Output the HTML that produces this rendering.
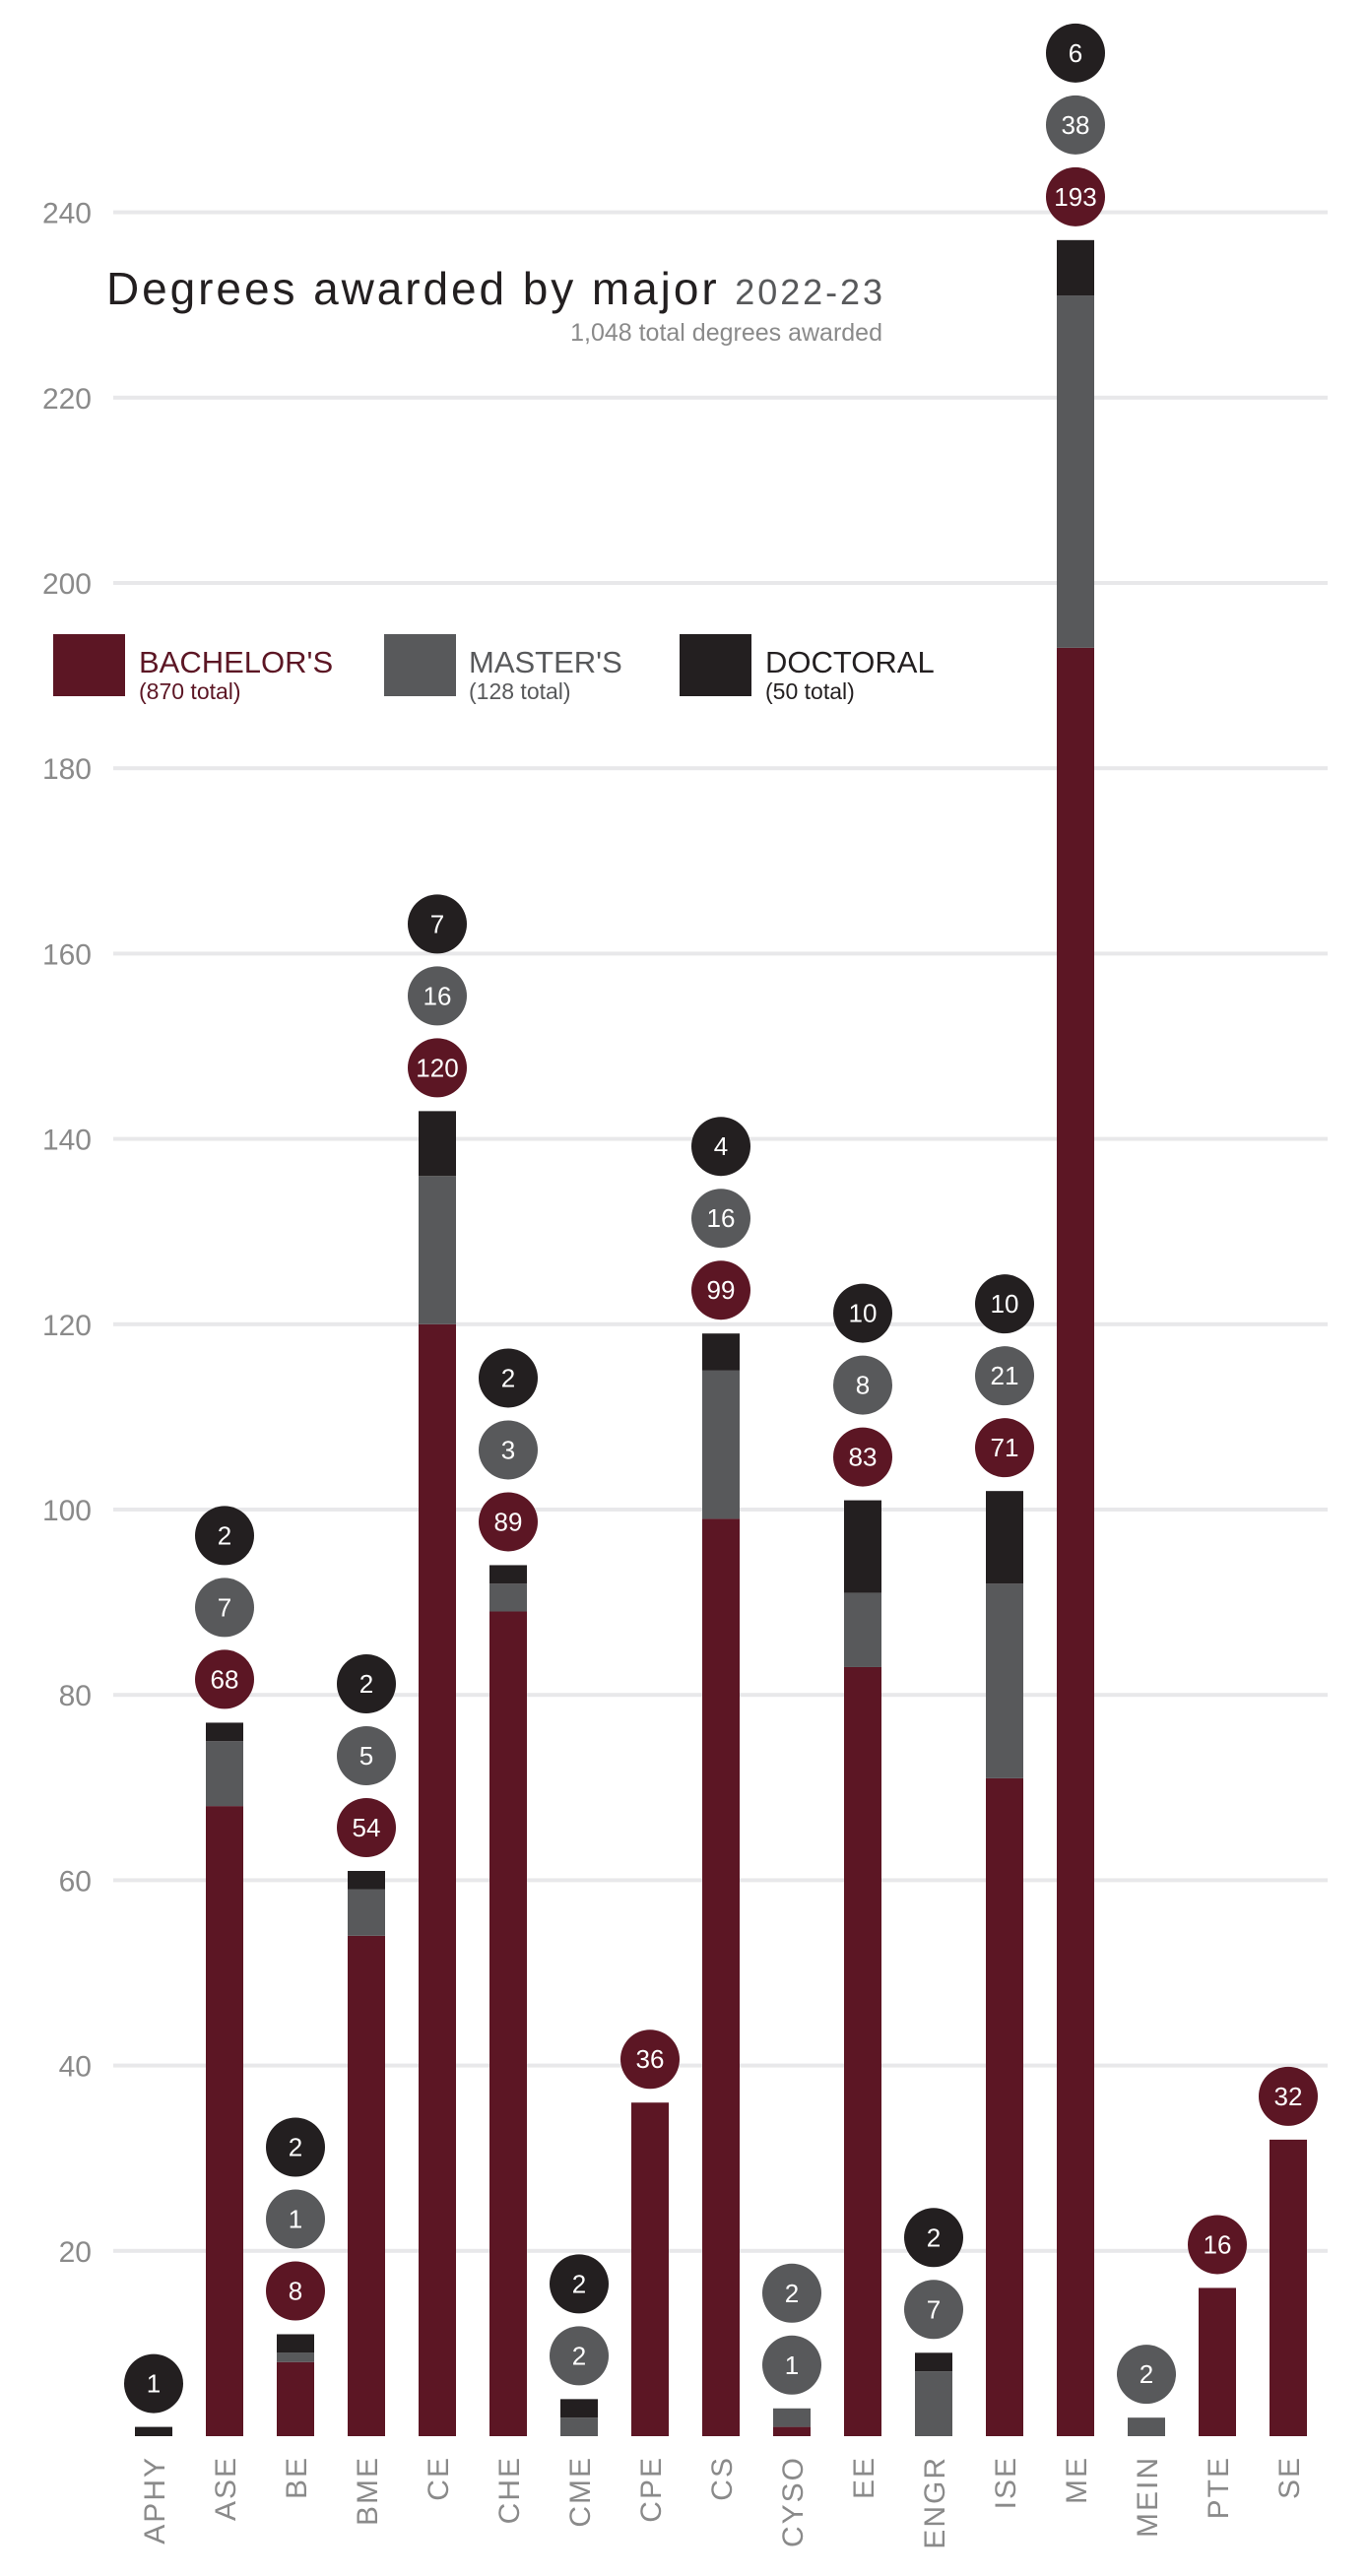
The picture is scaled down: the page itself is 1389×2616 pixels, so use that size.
<!DOCTYPE html>
<html><head><meta charset="utf-8"><style>
html,body{margin:0;padding:0;background:#fff}
svg{display:block}
text{font-family:"Liberation Sans",sans-serif}
</style></head><body>
<svg id="chart" width="1389" height="2616" viewBox="0 0 1389 2616" xmlns="http://www.w3.org/2000/svg">
<g id="grid"></g>
<g id="bars"></g>
<g id="labels"></g>
<g>
<text x="108" y="309" font-size="46" fill="#231f20" textLength="788" lengthAdjust="spacing">Degrees awarded by major <tspan font-size="36" fill="#58595b">2022-23</tspan></text>
<text x="896" y="346" font-size="25" fill="#8a8a8a" text-anchor="end">1,048 total degrees awarded</text>
</g>
<g>
<rect x="54" y="644" width="73" height="63" fill="#5c1624"/>
<text x="141" y="683" font-size="31" fill="#5c1624">BACHELOR'S</text>
<text x="141" y="710" font-size="23" fill="#5c1624">(870 total)</text>
<rect x="390" y="644" width="73" height="63" fill="#58595b"/>
<text x="476" y="683" font-size="31" fill="#58595b">MASTER'S</text>
<text x="476" y="710" font-size="23" fill="#58595b">(128 total)</text>
<rect x="690" y="644" width="73" height="63" fill="#231f20"/>
<text x="777" y="683" font-size="31" fill="#231f20">DOCTORAL</text>
<text x="777" y="710" font-size="23" fill="#231f20">(50 total)</text>
</g>
</svg>
<script>
const categories=["APHY","ASE","BE","BME","CE","CHE","CME","CPE","CS","CYSO","EE","ENGR","ISE","ME","MEIN","PTE","SE"];
const bachelors=[0,68,8,54,120,89,0,36,99,1,83,0,71,193,0,16,32];
const masters=[0,7,1,5,16,3,2,0,16,2,8,7,21,38,2,0,0];
const doctoral=[1,2,2,2,7,2,2,0,4,0,10,2,10,6,0,0,0];
const yTicks=[20,40,60,80,100,120,140,160,180,200,220,240];
const COLORS=["#5c1624","#58595b","#231f20"];
const NS="http://www.w3.org/2000/svg";
const y0=2474,pxPerUnit=9.41,x0=156,step=72,bw=38;
function y(v){return y0-v*pxPerUnit;}
function x(i){return x0+i*step;}
function mk(tag,attrs,parent){const e=document.createElementNS(NS,tag);for(const k in attrs)e.setAttribute(k,attrs[k]);parent.appendChild(e);return e;}
const grid=document.getElementById('grid');
yTicks.forEach(t=>{
 const l=mk('rect',{x:115,y:y(t)-2,width:1233,height:4,fill:'#e8e8ea'},grid);
 
 
 const tx=mk('text',{x:93,y:y(t)+11,'font-size':30,fill:'#8a8a8a','text-anchor':'end'},grid);
 tx.textContent=t;
 
 
});
const bars=document.getElementById('bars');
const labels=document.getElementById('labels');
categories.forEach((c,i)=>{
 const vals=[bachelors[i],masters[i],doctoral[i]];
 let acc=0;
 vals.forEach((v,s)=>{
  if(v<=0)return;
  const r=mk('rect',{x:x(i)-bw/2,y:y(acc+v),width:bw,height:y(acc)-y(acc+v),fill:COLORS[s]},bars);
  
  
  acc+=v;
 });
 let by=y(acc)-44;
 vals.forEach((v,s)=>{
  if(v<=0)return;
  let col=COLORS[s];
  if(c==="CYSO"&&s===0)col=COLORS[1];
  const g=mk('g',{},bars);
  
  
  mk('circle',{cx:x(i),cy:by,r:30,fill:col},g);
  const t=mk('text',{x:x(i),y:by+9,'font-size':26,fill:'#fff','text-anchor':'middle'},g);
  t.textContent=v;
  by-=73;
 });
 const lt=mk('text',{x:0,y:0,'font-size':30,fill:'#8a8a8a','text-anchor':'end','letter-spacing':'2',transform:'translate('+(x(i)+11)+',2494) rotate(-90)'},labels);
 lt.textContent=c;
 
 
});
</script>
</body></html>
